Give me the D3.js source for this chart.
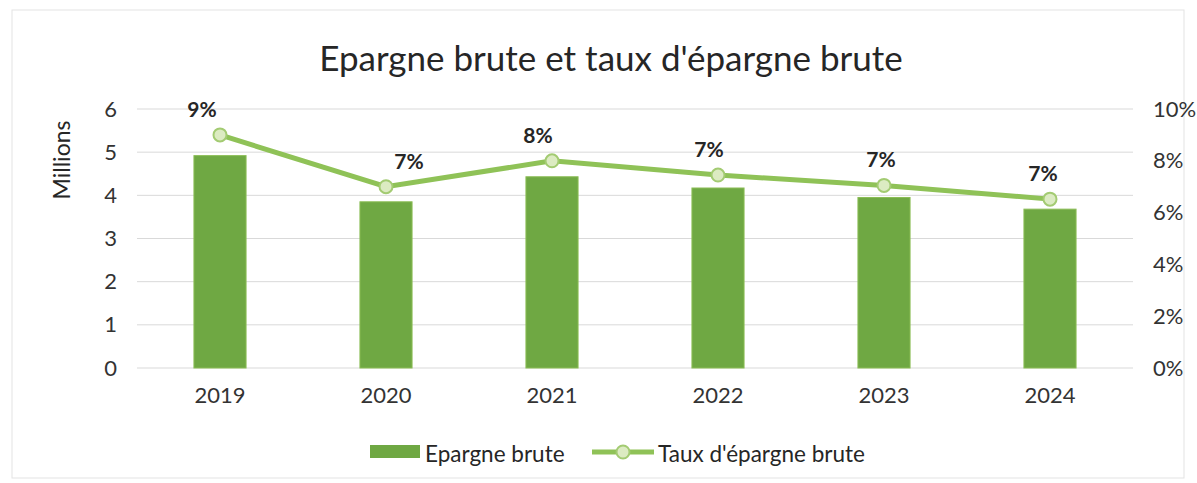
<!DOCTYPE html>
<html>
<head>
<meta charset="utf-8">
<script src="https://cdn.jsdelivr.net/npm/d3@7"></script>
<style>
  body { margin: 0; background: #fff; }
  svg { font-family: Lato, "Open Sans", sans-serif; }
  .tick text { fill: #333; }
</style>
</head>
<body>
<svg id="chart" width="1197" height="483"></svg>
<script>
// data
const years = ["2019", "2020", "2021", "2022", "2023", "2024"];
const epargne = [4.92, 3.85, 4.43, 4.17, 3.95, 3.68];      // millions
const taux = [0.090, 0.070, 0.080, 0.0745, 0.0705, 0.0652]; // rate
const leftTicks = [0, 1, 2, 3, 4, 5, 6];
const rightTicks = [0, 0.02, 0.04, 0.06, 0.08, 0.10];
// small nudges of the data labels, like in the original
const labelNudge = [-18, 23, -14, -9, -3, -7];

const svg = d3.select("#chart");
const plotLeft = 137, plotRight = 1133, plotTop = 109, plotBottom = 368;

svg.append("rect")
   .attr("x", 12).attr("y", 10)
   .attr("width", 1172).attr("height", 468)
   .attr("fill", "none")
   .attr("stroke", "#e3e3e3");

svg.append("text")
   .attr("x", 611).attr("y", 71)
   .attr("text-anchor", "middle")
   .style("font-size", "35px")
   .style("fill", "#262626")
   .text("Epargne brute et taux d'épargne brute");

var x = d3.scaleBand().domain(years).range([plotLeft, plotRight]).paddingInner(0.686).paddingOuter(0.343);
var yL = d3.scaleLinear().domain([0, 6]).range([plotBottom, plotTop]);
var yR = d3.scaleLinear().domain([0, 0.10]).range([plotBottom, plotTop]);

// gridlines
svg.append("g")
   .selectAll("line")
   .data(leftTicks)
   .enter()
   .append("line")
   .attr("x1", plotLeft).attr("x2", plotRight)
   .attr("y1", d => yL(d)).attr("y2", d => yL(d))
   .attr("stroke", "#d9d9d9")
   .attr("stroke-width", 1);

function styleAxis(g) {
  g.attr("font-family", null).attr("font-size", null);
  g.select(".domain").remove();
  g.selectAll("text").style("font-size", "22px");
}

var axisL = d3.axisLeft(yL).tickValues(leftTicks).tickSize(0).tickPadding(20)
              .tickFormat(d3.format("d"));
svg.append("g")
   .attr("transform", `translate(${plotLeft},0)`)
   .call(axisL)
   .call(styleAxis);

var axisR = d3.axisRight(yR).tickValues(rightTicks).tickSize(0).tickPadding(20)
              .tickFormat(d3.format(".0%"));
svg.append("g")
   .attr("transform", `translate(${plotRight},0)`)
   .call(axisR)
   .call(styleAxis);

var axisX = d3.axisBottom(x).tickSize(0).tickPadding(19);
svg.append("g")
   .attr("transform", `translate(0,${plotBottom})`)
   .call(axisX)
   .call(styleAxis);

svg.append("text")
   .attr("transform", "translate(70,160) rotate(-90)")
   .attr("text-anchor", "middle")
   .style("font-size", "23px")
   .style("fill", "#262626")
   .text("Millions");

// bars
svg.append("g")
   .selectAll("rect")
   .data(epargne)
   .enter()
   .append("rect")
   .attr("x", (d, i) => x(years[i]))
   .attr("y", d => yL(d))
   .attr("width", x.bandwidth())
   .attr("height", d => plotBottom - yL(d))
   .attr("fill", "#6fa843")
   .attr("stroke", "#8bbd55")
   .attr("stroke-width", 1);

// line
var cx = (d, i) => x(years[i]) + x.bandwidth() / 2;
var line = d3.line().x(cx).y(d => yR(d));
svg.append("path")
   .datum(taux)
   .attr("d", line)
   .attr("fill", "none")
   .attr("stroke", "#8fc257")
   .attr("stroke-width", 5);

svg.append("g")
   .selectAll("circle")
   .data(taux)
   .enter()
   .append("circle")
   .attr("cx", cx)
   .attr("cy", d => yR(d))
   .attr("r", 6.5)
   .attr("fill", "#dcebc2")
   .attr("stroke", "#a3cb72")
   .attr("stroke-width", 2);

svg.append("g")
   .selectAll("text")
   .data(taux)
   .enter()
   .append("text")
   .attr("x", (d, i) => cx(d, i) + labelNudge[i])
   .attr("y", d => yR(d) - 18)
   .attr("text-anchor", "middle")
   .style("font-size", "21px")
   .style("font-weight", "bold")
   .style("fill", "#262626")
   .text(d => d3.format(".0%")(d));

// legend
var lg = svg.append("g");
lg.append("rect")
  .attr("x", 370).attr("y", 445).attr("width", 50).attr("height", 13)
  .attr("fill", "#6fa843");
lg.append("text")
  .attr("x", 425).attr("y", 462)
  .style("font-size", "22.5px").style("fill", "#262626")
  .text("Epargne brute");
lg.append("line")
  .attr("x1", 592).attr("x2", 654).attr("y1", 452).attr("y2", 452)
  .attr("stroke", "#8fc257").attr("stroke-width", 5);
lg.append("circle")
  .attr("cx", 623).attr("cy", 452).attr("r", 6.5)
  .attr("fill", "#dcebc2").attr("stroke", "#a3cb72").attr("stroke-width", 2);
lg.append("text")
  .attr("x", 658).attr("y", 462)
  .style("font-size", "22.5px").style("fill", "#262626")
  .text("Taux d'épargne brute");
</script>
</body>
</html>
